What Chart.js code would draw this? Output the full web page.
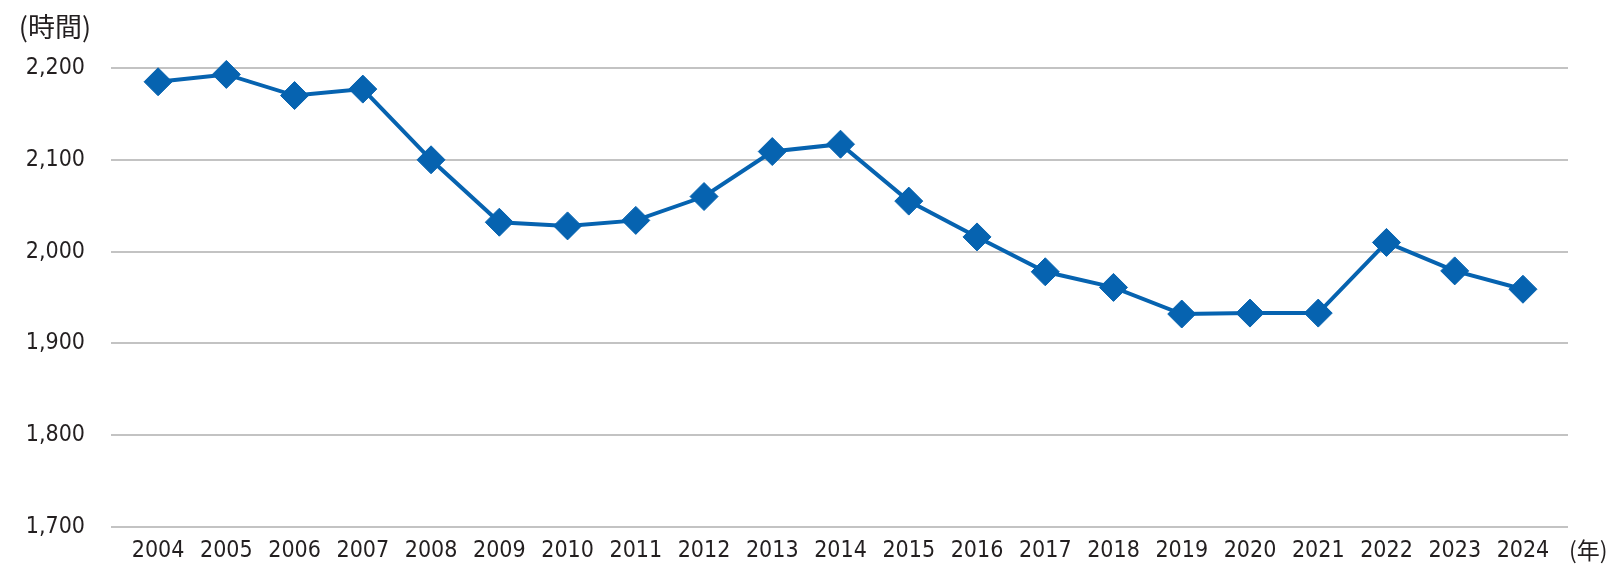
<!DOCTYPE html>
<html lang="ja">
<head>
  <meta charset="UTF-8" />
  <title>年間総実労働時間</title>
  <script src="https://cdn.jsdelivr.net/npm/chart.js"></script>
  <style>
    html, body { margin: 0; padding: 0; background: #fff; }
    #wrap { width: 1616px; height: 571px; position: relative; }
  </style>
</head>
<body>
  <div id="wrap"><canvas id="grafico"></canvas></div>

  <script>
    const anos = [2004, 2005, 2006, 2007, 2008, 2009, 2010, 2011, 2012, 2013, 2014,
                  2015, 2016, 2017, 2018, 2019, 2020, 2021, 2022, 2023, 2024];
    const horas = [2185, 2193, 2170, 2177, 2100, 2032, 2028, 2034, 2060, 2109, 2117,
                   2055, 2016, 1978, 1961, 1932, 1933, 1933, 2010, 1979, 1959];
    const yTicks = [1700, 1800, 1900, 2000, 2100, 2200];
    const unidadeY = "(時間)";
    const unidadeX = "(年)";

    const corTexto = "#231f20";
    const corLinha = "#0663b0";
    const fonteNum = "'Liberation Sans Narrow', 'DejaVu Sans Condensed', 'Liberation Sans', sans-serif";
    const fonteJp = "'Noto Sans CJK JP', sans-serif";

    // rótulos de unidade (時間 / 年)
    const unidades = {
      id: "unidades",
      afterDraw(chart) {
        const ctx = chart.ctx;
        const area = chart.chartArea;
        ctx.save();
        ctx.fillStyle = corTexto;
        ctx.font = "27px " + fonteJp;
        ctx.textBaseline = "middle";
        ctx.textAlign = "center";
        ctx.fillText(unidadeY, 55, 27);
        ctx.textAlign = "left";
        ctx.font = "23px " + fonteJp;
        ctx.fillText(unidadeX, area.right + 1, 550);
        ctx.restore();
      }
    };

    const ctx = document.getElementById("grafico").getContext("2d");
    new Chart(ctx, {
      type: "line",
      data: {
        datasets: [{
          data: anos.map((a, i) => ({ x: a, y: horas[i] })),
          borderColor: corLinha,
          backgroundColor: corLinha,
          borderWidth: 4,
          pointStyle: "rectRot",
          pointRadius: 14,
          pointHoverRadius: 14,
          pointBorderWidth: 1,
          tension: 0,
          clip: false
        }]
      },
      options: {
        responsive: true,
        maintainAspectRatio: false,
        animation: false,
        layout: { padding: { top: 68, right: 48, bottom: 0, left: 0 } },
        plugins: {
          legend: { display: false },
          tooltip: { enabled: false }
        },
        scales: {
          x: {
            type: "linear",
            min: 2003.31,
            max: 2024.66,
            afterBuildTicks(scale) {
              scale.ticks = anos.map(a => ({ value: a }));
            },
            afterFit(scale) { scale.height = 44; },
            grid: { display: false, drawTicks: false },
            border: { display: false },
            ticks: {
              autoSkip: false,
              maxRotation: 0,
              padding: 10,
              color: corTexto,
              font: { family: fonteNum, size: 23 },
              callback: v => String(v)
            }
          },
          y: {
            min: 1700,
            max: 2200,
            afterBuildTicks(scale) {
              scale.ticks = yTicks.map(v => ({ value: v }));
            },
            afterFit(scale) { scale.width = 111; },
            grid: { color: "#c3c3c3", lineWidth: 2, drawTicks: false },
            border: { display: false },
            ticks: {
              padding: 26,
              color: corTexto,
              font: { family: fonteNum, size: 23 },
              callback: v => v.toLocaleString("en-US")
            }
          }
        }
      },
      plugins: [unidades]
    });
  </script>
</body>
</html>
